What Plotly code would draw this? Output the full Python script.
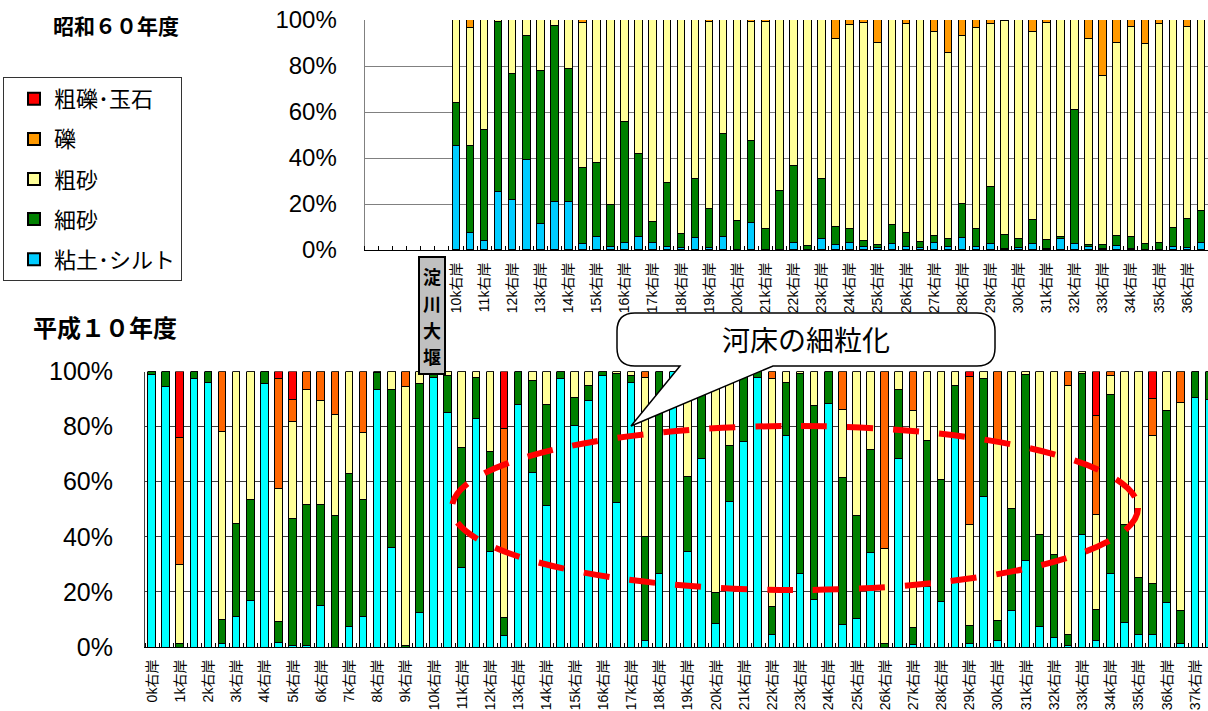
import plotly.graph_objects as go

W, H = 1208, 711

# ---------------- 昭和60年度 (distance in km, right bank) ----------------
km_s60 = [10, 10.5, 11, 11.5, 12, 12.5, 13, 13.5, 14, 14.5,
          15, 15.5, 16, 16.5, 17, 17.5, 18, 18.5, 19, 19.5,
          20, 20.5, 21, 21.5, 22, 22.5, 23, 23.5, 24, 24.5,
          25, 25.5, 26, 26.5, 27, 27.5, 28, 28.5, 29, 29.5,
          30, 30.5, 31, 31.5, 32, 32.5, 33, 33.5, 34, 34.5,
          35, 35.5, 36, 36.5]

clay_s60 = [45.2, 7.2, 3.8, 25.1, 21.9, 39.1, 11.3, 20.7, 21.0, 2.6,
            5.5, 1.2, 3.2, 5.8, 2.9, 1.4, 0.7, 5.4, 0.7, 5.7,
            0.0, 11.6, 0.0, 0.0, 2.9, 0.0, 4.6, 2.2, 3.2, 1.2,
            1.0, 2.5, 1.4, 0.7, 2.9, 1.4, 5.4, 1.4, 2.5, 0.5,
            0.7, 2.5, 0.3, 5.0, 2.5, 1.2, 0.3, 1.7, 0.3, 0.0,
            0.0, 1.4, 0.7, 2.9]
fine_s60 = [18.6, 38.2, 48.4, 74.0, 54.6, 53.9, 66.5, 76.7, 57.6, 32.9,
            32.5, 18.4, 52.5, 35.9, 9.1, 27.6, 6.1, 25.6, 17.0, 44.6,
            12.8, 35.8, 9.0, 25.8, 33.8, 1.9, 26.3, 7.7, 6.1, 2.9,
            1.2, 8.4, 6.1, 2.9, 3.2, 3.2, 14.6, 7.9, 24.7, 5.9,
            4.2, 10.5, 4.0, 0.7, 58.4, 1.0, 1.9, 4.4, 5.2, 2.5,
            2.9, 8.3, 12.8, 14.2]
coarse_s60 = [36.2, 51.0, 47.8, 0.9, 23.5, 7.0, 22.2, 2.6, 21.4, 63.3,
              62.0, 80.4, 44.3, 58.3, 88.0, 71.0, 93.2, 69.0, 81.6, 49.7,
              87.2, 51.9, 90.3, 74.2, 63.3, 98.1, 69.1, 81.7, 88.5, 94.7,
              87.7, 89.1, 90.8, 96.4, 88.5, 80.9, 73.0, 87.1, 70.9, 93.1,
              95.1, 81.9, 94.5, 94.3, 39.1, 89.4, 73.5, 84.0, 91.3, 87.1,
              95.4, 90.3, 83.6, 82.9]
gravel_s60 = [0.0, 3.6, 0.0, 0.0, 0.0, 0.0, 0.0, 0.0, 0.0, 1.2,
              0.0, 0.0, 0.0, 0.0, 0.0, 0.0, 0.0, 0.0, 0.7, 0.0,
              0.0, 0.7, 0.7, 0.0, 0.0, 0.0, 0.0, 8.4, 2.2, 1.2,
              10.1, 0.0, 1.7, 0.0, 5.4, 14.5, 7.0, 3.6, 1.9, 0.5,
              0.0, 5.1, 1.2, 0.0, 0.0, 8.4, 24.3, 9.9, 3.2, 10.4,
              1.7, 0.0, 2.9, 0.0]
cobble_s60 = [0.0] * 54

ticks_s60 = [10, 11, 12, 13, 14, 15, 16, 17, 18, 19, 20, 21, 22, 23,
             24, 25, 26, 27, 28, 29, 30, 31, 32, 33, 34, 35, 36]

# ---------------- 平成10年度 ----------------
km_h10 = [0, 0.5, 1, 1.5, 2, 2.5, 3, 3.5, 4, 4.5,
          5, 5.5, 6, 6.5, 7, 7.5, 8, 8.5, 9, 9.5,
          10, 10.5, 11, 11.5, 12, 12.5, 13, 13.5, 14, 14.5,
          15, 15.5, 16, 16.5, 17, 17.5, 18, 18.5, 19, 19.5,
          20, 20.5, 21, 21.5, 22, 22.5, 23, 23.5, 24, 24.5,
          25, 25.5, 26, 26.5, 27, 27.5, 28, 28.5, 29, 29.5,
          30, 30.5, 31, 31.5, 32, 32.5, 33, 33.5, 34, 34.5,
          35, 35.5, 36, 36.5, 37, 37.5]

clay_h10 = [99.0, 94.7, 0.0, 97.4, 96.0, 1.3, 10.9, 16.9, 95.8, 1.5,
            0.7, 0.5, 14.9, 0.0, 7.6, 11.1, 93.6, 36.1, 0.0, 12.6,
            98.0, 85.2, 28.8, 82.8, 34.6, 4.1, 88.2, 63.3, 51.5, 97.5,
            80.5, 89.3, 98.4, 52.5, 95.9, 2.4, 26.7, 100.0, 34.6, 68.5,
            8.6, 52.8, 74.5, 97.9, 4.6, 76.6, 26.7, 17.3, 88.3, 8.0,
            10.2, 34.2, 0.0, 68.5, 1.0, 22.0, 16.5, 76.0, 1.3, 54.8,
            2.2, 13.2, 31.3, 7.6, 3.6, 0.7, 40.7, 2.2, 26.5, 8.8,
            4.4, 4.7, 16.3, 1.3, 90.6, 90.0]
fine_h10 = [1.0, 5.3, 1.3, 2.6, 4.0, 8.7, 33.9, 36.7, 4.2, 7.7,
            45.8, 51.3, 36.9, 47.9, 55.2, 42.5, 5.9, 57.3, 0.7, 83.1,
            2.0, 13.3, 43.7, 15.1, 36.5, 6.5, 11.8, 33.4, 36.7, 2.5,
            10.0, 5.8, 1.6, 46.6, 2.5, 37.6, 73.3, 0.0, 27.4, 25.0,
            11.2, 20.5, 25.5, 2.1, 10.0, 19.5, 72.4, 70.5, 11.7, 53.6,
            37.7, 37.5, 1.3, 25.0, 6.1, 52.8, 44.4, 18.9, 6.4, 42.5,
            7.6, 36.9, 67.7, 33.3, 29.8, 3.9, 58.4, 11.5, 65.3, 35.5,
            20.9, 18.4, 69.4, 12.1, 9.4, 10.0]
coarse_h10 = [0.0, 0.0, 28.5, 0.0, 0.0, 68.3, 55.2, 46.4, 0.0, 48.2,
              35.3, 41.5, 37.5, 36.6, 37.2, 24.2, 0.5, 6.6, 94.0, 4.3,
              0.0, 1.5, 27.5, 2.1, 28.9, 24.0, 0.0, 3.3, 11.8, 0.0,
              9.5, 4.9, 0.0, 0.9, 1.6, 57.8, 0.0, 0.0, 36.7, 6.5,
              78.7, 24.8, 0.0, 0.0, 82.7, 3.9, 0.9, 12.2, 0.0, 24.7,
              52.1, 28.3, 34.5, 6.5, 78.9, 25.2, 39.1, 5.1, 36.6, 2.7,
              65.0, 49.9, 1.0, 59.1, 66.6, 90.3, 0.9, 34.5, 6.9, 55.7,
              74.7, 53.6, 14.3, 75.4, 0.0, 0.0]
gravel_h10 = [0.0, 0.0, 46.3, 0.0, 0.0, 21.7, 0.0, 0.0, 0.0, 40.1,
              8.0, 6.7, 10.7, 15.5, 0.0, 22.2, 0.0, 0.0, 5.3, 0.0,
              0.0, 0.0, 0.0, 0.0, 0.0, 44.8, 0.0, 0.0, 0.0, 0.0,
              0.0, 0.0, 0.0, 0.0, 0.0, 2.2, 0.0, 0.0, 1.3, 0.0,
              1.5, 1.9, 0.0, 0.0, 2.7, 0.0, 0.0, 0.0, 0.0, 13.7,
              0.0, 0.0, 64.2, 0.0, 14.0, 0.0, 0.0, 0.0, 53.8, 0.0,
              25.2, 0.0, 0.0, 0.0, 0.0, 5.1, 0.0, 35.8, 1.3, 0.0,
              0.0, 13.6, 0.0, 11.2, 0.0, 0.0]
cobble_h10 = [0.0, 0.0, 23.9, 0.0, 0.0, 0.0, 0.0, 0.0, 0.0, 2.5,
              10.2, 0.0, 0.0, 0.0, 0.0, 0.0, 0.0, 0.0, 0.0, 0.0,
              0.0, 0.0, 0.0, 0.0, 0.0, 20.6, 0.0, 0.0, 0.0, 0.0,
              0.0, 0.0, 0.0, 0.0, 0.0, 0.0, 0.0, 0.0, 0.0, 0.0,
              0.0, 0.0, 0.0, 0.0, 0.0, 0.0, 0.0, 0.0, 0.0, 0.0,
              0.0, 0.0, 0.0, 0.0, 0.0, 0.0, 0.0, 0.0, 1.9, 0.0,
              0.0, 0.0, 0.0, 0.0, 0.0, 0.0, 0.0, 16.0, 0.0, 0.0,
              0.0, 9.7, 0.0, 0.0, 0.0, 0.0]

ticks_h10 = [0, 1, 2, 3, 4, 5, 6, 7, 8, 9, 10, 11, 12, 13, 14, 15, 16, 17, 18,
             19, 20, 21, 22, 23, 24, 25, 26, 27, 28, 29, 30, 31, 32, 33, 34,
             35, 36, 37]

names = ["粘土･シルト", "細砂", "粗砂", "礫", "粗礫･玉石"]
colors_s60 = ["#00CCFF", "#008000", "#FFFF99", "#FF9900", "#FF0000"]
colors_h10 = ["#00FFFF", "#008000", "#FFFF99", "#FF6600", "#FF0000"]
legend_rank = [5, 4, 3, 2, 1]

LAT = "Liberation Sans, Noto Sans CJK JP, sans-serif"
JP = "Noto Sans CJK JP, sans-serif"


def px(x):
    return x / W


def py(y):
    return 1 - y / H


fig = go.Figure()

series_s60 = [clay_s60, fine_s60, coarse_s60, gravel_s60, cobble_s60]
for name, vals, col, rank in zip(names, series_s60, colors_s60, legend_rank):
    fig.add_trace(go.Bar(
        x=km_s60, y=vals, name=name, width=0.27,
        marker=dict(color=col, line=dict(color="black", width=1)),
        xaxis="x", yaxis="y", legendgroup=name, legendrank=rank,
        showlegend=True,
        hovertemplate="%{x}k " + name + ": %{y:.1f}%<extra></extra>",
    ))

series_h10 = [clay_h10, fine_h10, coarse_h10, gravel_h10, cobble_h10]
for name, vals, col, rank in zip(names, series_h10, colors_h10, legend_rank):
    fig.add_trace(go.Bar(
        x=km_h10, y=vals, name=name, width=0.27,
        marker=dict(color=col, line=dict(color="black", width=1)),
        xaxis="x2", yaxis="y2", legendgroup=name, legendrank=rank,
        showlegend=False,
        hovertemplate="%{x}k " + name + ": %{y:.1f}%<extra></extra>",
    ))


def x_axis(domain, rng, tickv, anchor):
    return dict(
        domain=domain, range=rng, anchor=anchor, automargin=False,
        tickmode="array", tickvals=tickv,
        ticktext=[f"{k}k右岸" for k in tickv],
        tickangle=-90, tickfont=dict(family=LAT, size=14, color="black"),
        ticks="", ticklabelstandoff=6,
        minor=dict(tickmode="linear", tick0=rng[0], dtick=0.5,
                   ticks="inside", ticklen=4, tickcolor="black",
                   showgrid=False),
        showgrid=False, zeroline=False,
        showline=True, linecolor="black", linewidth=1,
        fixedrange=True,
    )


def y_axis(domain, anchor, grid, size, standoff):
    return dict(
        domain=domain, range=[0, 100], anchor=anchor, automargin=False,
        tickmode="array", tickvals=[0, 20, 40, 60, 80, 100],
        ticktext=["0%", "20%", "40%", "60%", "80%", "100%"],
        tickfont=dict(family=LAT, size=size, color="black"),
        ticks="", ticklabelstandoff=standoff,
        showgrid=True, gridcolor=grid, gridwidth=1,
        zeroline=False, showline=True, linecolor=grid, linewidth=1,
        fixedrange=True,
    )


fig.update_layout(
    width=W, height=H,
    margin=dict(l=0, r=0, t=0, b=0, autoexpand=False),
    paper_bgcolor="white", plot_bgcolor="white",
    barmode="stack", barnorm="percent", bargap=0,
    xaxis=x_axis([px(364.6), 1], [6.75, 36.74], ticks_s60, "y"),
    yaxis=y_axis([py(250), py(20)], "x", "#808080", 24, 22),
    xaxis2=x_axis([px(145), 1], [-0.25, 37.45], ticks_h10, "y2"),
    yaxis2=y_axis([py(647), py(371.5)], "x2", "#404040", 25, 26),
    legend=dict(
        x=px(3), y=py(77), xanchor="left", yanchor="top",
        traceorder="grouped", tracegroupgap=8.5, indentation=10,
        bgcolor="white", bordercolor="#333333", borderwidth=1,
        font=dict(family=JP, size=22, color="black"),
        itemsizing="constant",
    ),
    showlegend=True,
)

shapes = []

# dashed ellipse marking the fining reach
shapes.append(dict(
    type="circle", xref="paper", yref="paper",
    x0=px(452), x1=px(1138), y0=py(590), y1=py(426),
    line=dict(color="#FF0000", width=6, dash="26px,20px"),
    fillcolor="rgba(0,0,0,0)", layer="above",
))

# rounded callout balloon
L, R, T, B, r = 617, 995, 313, 366, 18
tip = (631, 426)
wedge = (680, 773)
pts = [
    ("M", (L + r, T)), ("L", (R - r, T)), ("Q", (R, T), (R, T + r)),
    ("L", (R, B - r)), ("Q", (R, B), (R - r, B)), ("L", (wedge[1], B)),
    ("L", tip), ("L", (wedge[0], B)), ("L", (L + r, B)),
    ("Q", (L, B), (L, B - r)), ("L", (L, T + r)), ("Q", (L, T), (L + r, T)),
]
path = ""
for item in pts:
    cmd = item[0]
    coords = " ".join(f"{px(a):.5f},{py(b):.5f}" for a, b in item[1:])
    path += f"{cmd} {coords} "
path += "Z"
shapes.append(dict(
    type="path", xref="paper", yref="paper", path=path,
    fillcolor="white", line=dict(color="black", width=1.5), layer="above",
))

# weir marker box
shapes.append(dict(
    type="rect", xref="paper", yref="paper",
    x0=px(419), x1=px(445), y0=py(374), y1=py(257),
    fillcolor="#C0C0C0", line=dict(color="black", width=2), layer="above",
))


def label(text, x, y, size):
    return dict(text=text, x=px(x), y=py(y), xref="paper", yref="paper",
                xanchor="center", yanchor="middle", showarrow=False,
                font=dict(family=JP, size=size, color="black"))


annotations = [
    label("<b>昭和６０年度</b>", 116, 25, 21),
    label("<b>平成１０年度</b>", 105, 327, 24),
    label("河床の細粒化", 806, 339, 28),
]
# weir name written vertically, one character per row
for ch, yy in zip("淀川大堰", [276.5, 303, 329.5, 356]):
    annotations.append(label(f"<b>{ch}</b>", 432, yy, 18))

fig.update_layout(shapes=shapes, annotations=annotations)

fig.write_html("out.html")
